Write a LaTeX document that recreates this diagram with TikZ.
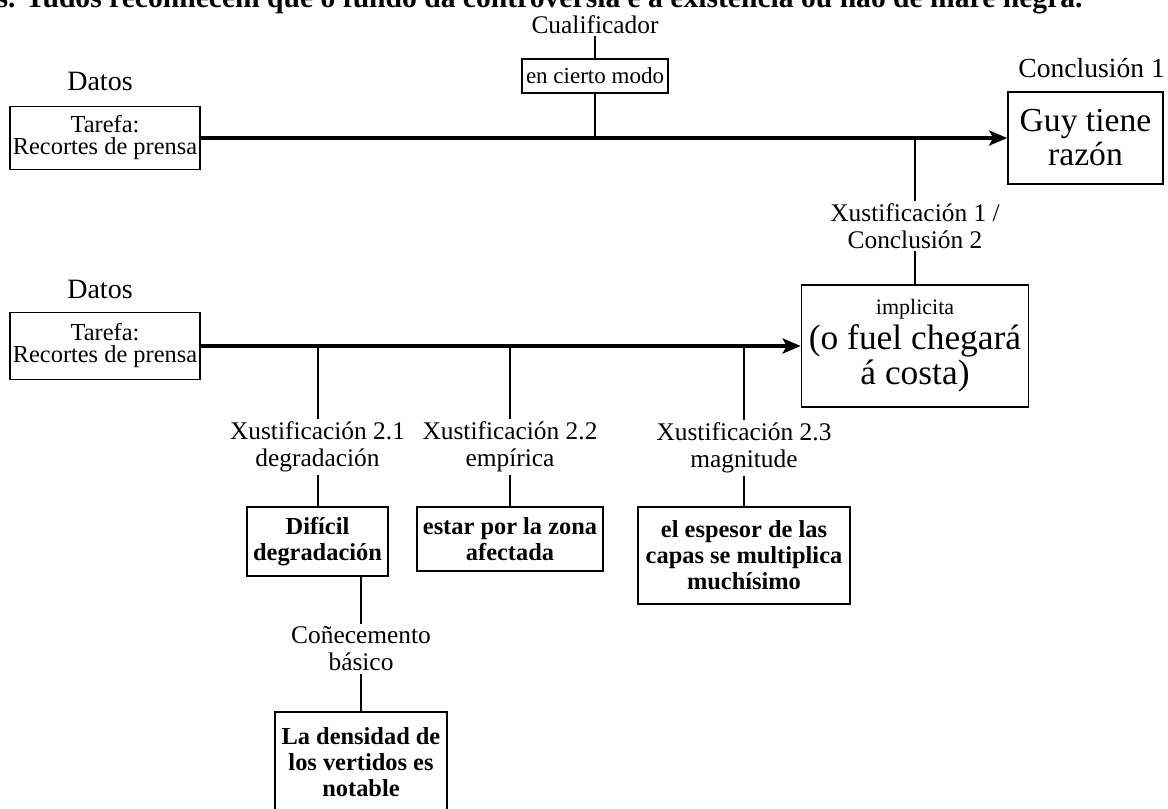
\documentclass[tikz,border=0pt]{standalone}
\usepackage{fontspec}
\setmainfont{Liberation Serif}
\usetikzlibrary{positioning,arrows.meta}

\begin{document}
\begin{tikzpicture}[
    x=0.5pt, y=-0.5pt,
    box/.style={draw, line width=0.8pt, align=center, inner sep=0pt, font=\fontsize{12.2}{11}\selectfont},
    boldbox/.style={draw, line width=0.8pt, align=center, inner sep=0pt, font=\fontsize{12.2}{13}\selectfont\bfseries},
    lab/.style={align=center, inner sep=1pt, font=\fontsize{12.7}{13.5}\selectfont},
    head/.style={inner sep=0pt, font=\fontsize{14}{16}\selectfont},
    link/.style={line width=1pt},
    dataline/.style={line width=2.2pt},
    arrow/.style={line width=1.8pt, -{Stealth[length=9pt, width=7.5pt, inset=2pt]}}
]
\useasboundingbox (0,0) rectangle (1168,809);

% Sentence above the picture (cut by the page)
\node[anchor=base east, inner sep=0pt, font=\fontsize{14.8}{16}\selectfont\bfseries] (sent) at (1083,7) {s. Tudos reconhecem que o fundo da controversia e a existencia ou nao de mare negra.};

% First argument - data, qualifier, conclusion
\node[head, anchor=base] (datlab1) at (100,90) {Datos};
\node[box, minimum width=95pt, minimum height=31.5pt] (dat1) at (105,138) {Tarefa:\\Recortes de prensa};

\node[lab, anchor=base] (quallab) at (595,33) {Cualificador};
\node[box, minimum width=73pt, minimum height=17pt, font=\fontsize{11.5}{13}\selectfont] (qual) at (595,76) {en cierto modo};

\node[head, anchor=base west, font=\fontsize{13.8}{16}\selectfont] (conlab1) at (1018,77) {Conclusión 1};
\node[draw, line width=0.8pt, align=center, inner sep=0pt, minimum width=77.5pt, minimum height=46pt, font=\fontsize{16.8}{17}\selectfont] (con1) at (1085.5,138) {Guy tiene\\razón};

\coordinate (q1) at (595,138);
\coordinate (w1) at (915,138);

\draw[dataline] (dat1) -- (w1);
\draw[arrow] (w1) -- (con1);
\draw[link] (quallab) -- (qual);
\draw[link] (qual) -- (q1);

% Warrant 1 = conclusion 2
\node[lab] (warlab1) at (915,226) {Xustificación 1 /\\Conclusión 2};
\node[draw, line width=0.8pt, align=center, inner sep=0pt, minimum width=113.5pt, minimum height=61pt, font=\fontsize{17.7}{17.5}\selectfont] (con2) at (915,346) {{\fontsize{11}{13}\selectfont implicita}\\(o fuel chegará\\á costa)};

\draw[link] (w1) -- (warlab1);
\draw[link] (warlab1) -- (con2);

% Second argument - data and conclusion 2
\node[head, anchor=base] (datlab2) at (100,298) {Datos};
\node[box, minimum width=95pt, minimum height=33.5pt] (dat2) at (105,346) {Tarefa:\\Recortes de prensa};

\coordinate (j21) at (317.5,346);
\coordinate (j22) at (510,346);
\coordinate (j23) at (744,346);

\draw[dataline] (dat2) -- (j23);
\draw[arrow] (j23) -- (con2);

% Warrants of conclusion 2
\node[lab] (lab21) at (317.5,447) {Xustificación 2.1\\degradación};
\node[lab] (lab22) at (510,447) {Xustificación 2.2\\empírica};
\node[lab] (lab23) at (744,448) {Xustificación 2.3\\magnitude};

\node[boldbox, minimum width=70.5pt, minimum height=34.5pt] (dif) at (317.5,541.5) {Difícil\\degradación};
\node[boldbox, minimum width=93pt, minimum height=32pt] (est) at (510,539) {estar por la zona\\afectada};
\node[boldbox, minimum width=106pt, minimum height=48.5pt] (esp) at (744,555.5) {el espesor de las\\capas se multiplica\\muchísimo};

\draw[link] (j21) -- (lab21);
\draw[link] (j22) -- (lab22);
\draw[link] (j23) -- (lab23);
\draw[link] (lab21) -- (dif);
\draw[link] (lab22) -- (est);
\draw[link] (lab23) -- (esp);

% Backing of warrant 2.1
\node[lab] (kb) at (361,649) {Coñecemento\\básico};
\node[boldbox, minimum width=86pt, minimum height=50pt] (dens) at (361,762) {La densidad de\\los vertidos es\\notable};

\draw[link] (kb |- dif.south) -- (kb);
\draw[link] (kb) -- (dens);

\end{tikzpicture}
\end{document}
